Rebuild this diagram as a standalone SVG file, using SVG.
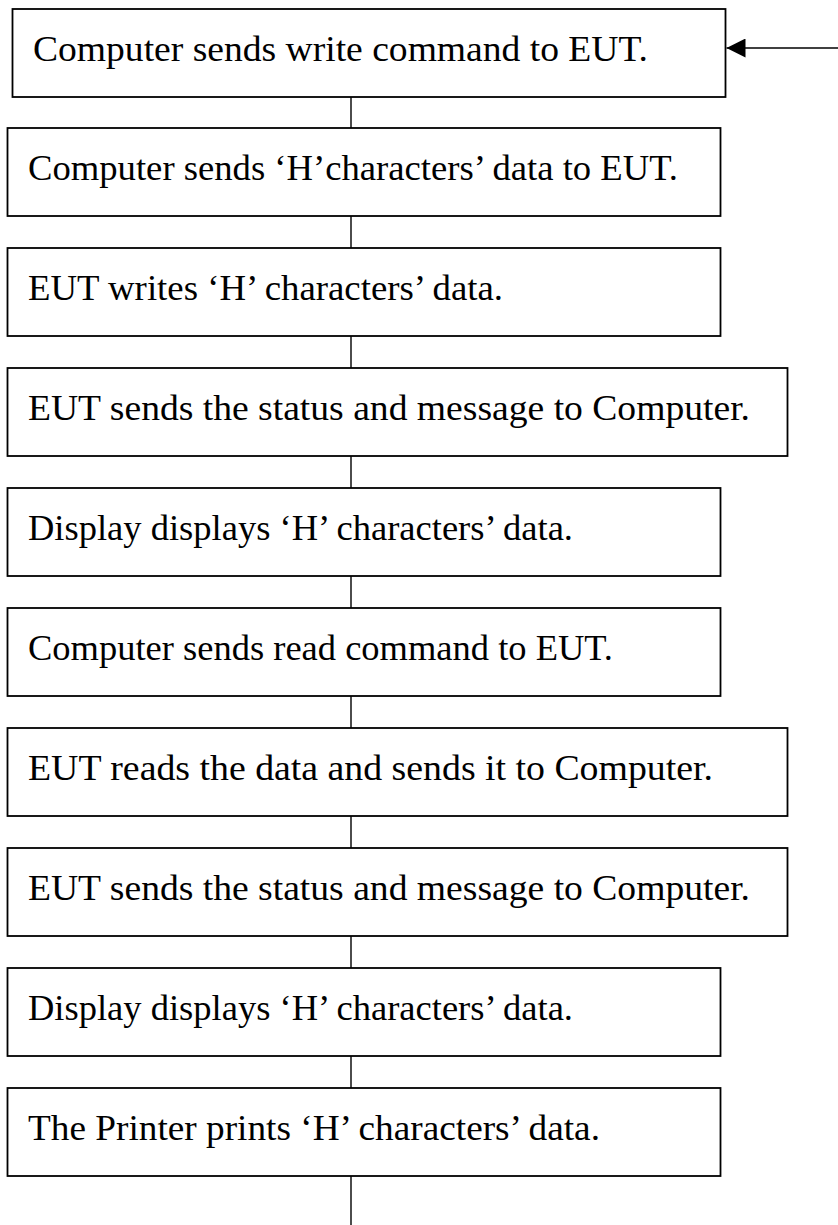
<svg xmlns="http://www.w3.org/2000/svg" width="838" height="1225" viewBox="0 0 838 1225">
<style>
.box{fill:#fff;stroke:#000;stroke-width:1.8}
.lbl{font-family:"Liberation Serif","Times New Roman",serif;font-size:35.5px;fill:#000}
.conn{stroke:#000;stroke-width:1.4;fill:none}
</style>
<defs>
<marker id="ah" markerWidth="19" markerHeight="19" refX="19" refY="9.5" orient="auto" markerUnits="userSpaceOnUse">
<path d="M0,0 L19,9.5 L0,19 Z" fill="#000"/>
</marker>
</defs>
<rect width="838" height="1225" fill="#fff"/>
<g id="connectors">
<line class="conn" x1="351" y1="97" x2="351" y2="128"/>
<line class="conn" x1="351" y1="216" x2="351" y2="248"/>
<line class="conn" x1="351" y1="336" x2="351" y2="368"/>
<line class="conn" x1="351" y1="456" x2="351" y2="488"/>
<line class="conn" x1="351" y1="576" x2="351" y2="608"/>
<line class="conn" x1="351" y1="696" x2="351" y2="728"/>
<line class="conn" x1="351" y1="816" x2="351" y2="848"/>
<line class="conn" x1="351" y1="936" x2="351" y2="968"/>
<line class="conn" x1="351" y1="1056" x2="351" y2="1088"/>
<line class="conn" x1="351" y1="1176" x2="351" y2="1225"/>
<line class="conn" x1="838" y1="48" x2="726.5" y2="48" marker-end="url(#ah)"/>
</g>
<g id="n1"><rect class="box" x="12.5" y="9" width="713" height="88"/><text class="lbl" x="33" y="61" textLength="615" lengthAdjust="spacingAndGlyphs">Computer sends write command to EUT.</text></g>
<g id="n2"><rect class="box" x="7.5" y="128" width="713" height="88"/><text class="lbl" x="28" y="180" textLength="650" lengthAdjust="spacingAndGlyphs">Computer sends ‘H’characters’ data to EUT.</text></g>
<g id="n3"><rect class="box" x="7.5" y="248" width="713" height="88"/><text class="lbl" x="28" y="300" textLength="475" lengthAdjust="spacingAndGlyphs">EUT writes ‘H’ characters’ data.</text></g>
<g id="n4"><rect class="box" x="7.5" y="368" width="780" height="88"/><text class="lbl" x="28" y="420" textLength="722" lengthAdjust="spacingAndGlyphs">EUT sends the status and message to Computer.</text></g>
<g id="n5"><rect class="box" x="7.5" y="488" width="713" height="88"/><text class="lbl" x="28" y="540" textLength="545" lengthAdjust="spacingAndGlyphs">Display displays ‘H’ characters’ data.</text></g>
<g id="n6"><rect class="box" x="7.5" y="608" width="713" height="88"/><text class="lbl" x="28" y="660" textLength="585" lengthAdjust="spacingAndGlyphs">Computer sends read command to EUT.</text></g>
<g id="n7"><rect class="box" x="7.5" y="728" width="780" height="88"/><text class="lbl" x="28" y="780" textLength="685" lengthAdjust="spacingAndGlyphs">EUT reads the data and sends it to Computer.</text></g>
<g id="n8"><rect class="box" x="7.5" y="848" width="780" height="88"/><text class="lbl" x="28" y="900" textLength="722" lengthAdjust="spacingAndGlyphs">EUT sends the status and message to Computer.</text></g>
<g id="n9"><rect class="box" x="7.5" y="968" width="713" height="88"/><text class="lbl" x="28" y="1020" textLength="545" lengthAdjust="spacingAndGlyphs">Display displays ‘H’ characters’ data.</text></g>
<g id="n10"><rect class="box" x="7.5" y="1088" width="713" height="88"/><text class="lbl" x="28" y="1140" textLength="572" lengthAdjust="spacingAndGlyphs">The Printer prints ‘H’ characters’ data.</text></g>
</svg>
